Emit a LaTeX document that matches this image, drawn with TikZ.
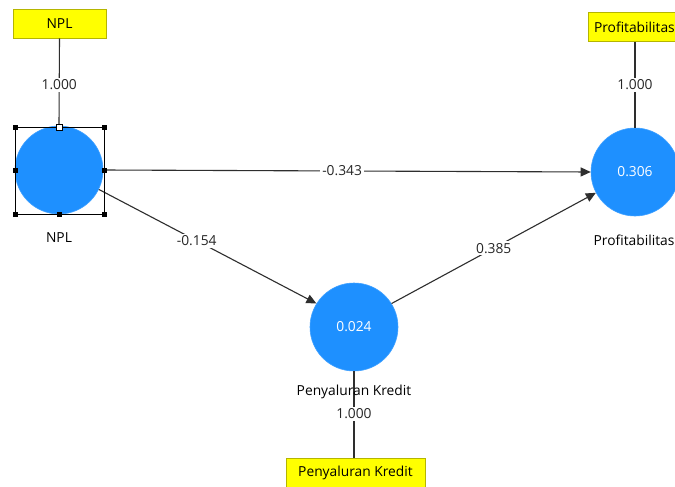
\documentclass[tikz,border=0pt]{standalone}
\usepackage{fontspec}
\setmainfont{Open Sans}
\usetikzlibrary{arrows.meta}
\definecolor{latent}{HTML}{1E90FF}
\definecolor{indic}{HTML}{FFFF00}
\definecolor{indicborder}{HTML}{B5B500}
\definecolor{edge}{HTML}{2E2E2E}
\begin{document}
\begin{tikzpicture}[x=1pt,y=-1pt,
  font=\fontsize{13.8}{15}\selectfont,
  latentvar/.style={circle,fill=latent,draw=latent!85!white,line width=0.6pt,minimum size=88pt,inner sep=0pt,text=white},
  indicator/.style={rectangle,fill=indic,draw=indicborder,line width=0.8pt,minimum height=29pt,inner xsep=5pt,inner ysep=0pt},
  path/.style={draw=edge,line width=1.1pt,-{Triangle[length=10pt,width=9pt]}},
  link/.style={draw=edge,line width=1.1pt},
  coef/.style={fill=white,inner sep=2pt,text=black!85},
  handle/.style={rectangle,fill=black,minimum size=5pt,inner sep=0pt}
]
\useasboundingbox (0,0) rectangle (675,487);
\fill[white] (0,0) rectangle (675,487);

% latent variables
\node[latentvar] (npl) at (59,170) {};
\node[latentvar] (prof) at (635,172) {0.306};
\node[latentvar] (kred) at (354,327) {0.024};

% indicators
\node[indicator,minimum width=93pt] (nplI) at (59.5,23.5) {NPL};
\node[indicator,minimum width=92pt,anchor=west,inner xsep=4pt] (profI) at (588,27) {Profitabilitas};
\node[indicator,minimum width=139pt] (kredI) at (355.5,473) {Penyaluran Kredit};

% construct names
\node (nplL) at (59,238) {NPL};
\node (profL) at (634,240) {Profitabilitas};

% outer loadings
\draw[link] (nplI.south) -- (npl.north) node[coef,pos=0.53] {1.000};
\draw[link] (profI.south -| prof.north) -- (prof.north) node[coef,pos=0.5] {1.000};
\draw[link] (kred.south) -- (kred.south |- kredI.north);
\node (kredL) at (354,392) {Penyaluran Kredit};
\node[coef] (kredC) at (354,414) {1.000};

% structural paths
\draw[path] (npl.east) -- (prof.west) node[coef,pos=0.49] {-0.343};
\draw[path] (npl.-26) -- (kred.148) node[coef,pos=0.45] {-0.154};
\draw[path] (kred.32) -- (prof.208) node[coef,pos=0.5] {0.385};

% selection frame around NPL
\draw[black,line width=0.9pt] (15,127) rectangle (104,214);
\foreach \hx/\hy in {15/127,104/127,15/170.5,104/170.5,15/214,59.5/214,104/214}
  \node[handle] at (\hx,\hy) {};
\node[handle,fill=white,draw=black,line width=0.8pt,minimum size=6pt] at (59.5,127) {};
\end{tikzpicture}
\end{document}
